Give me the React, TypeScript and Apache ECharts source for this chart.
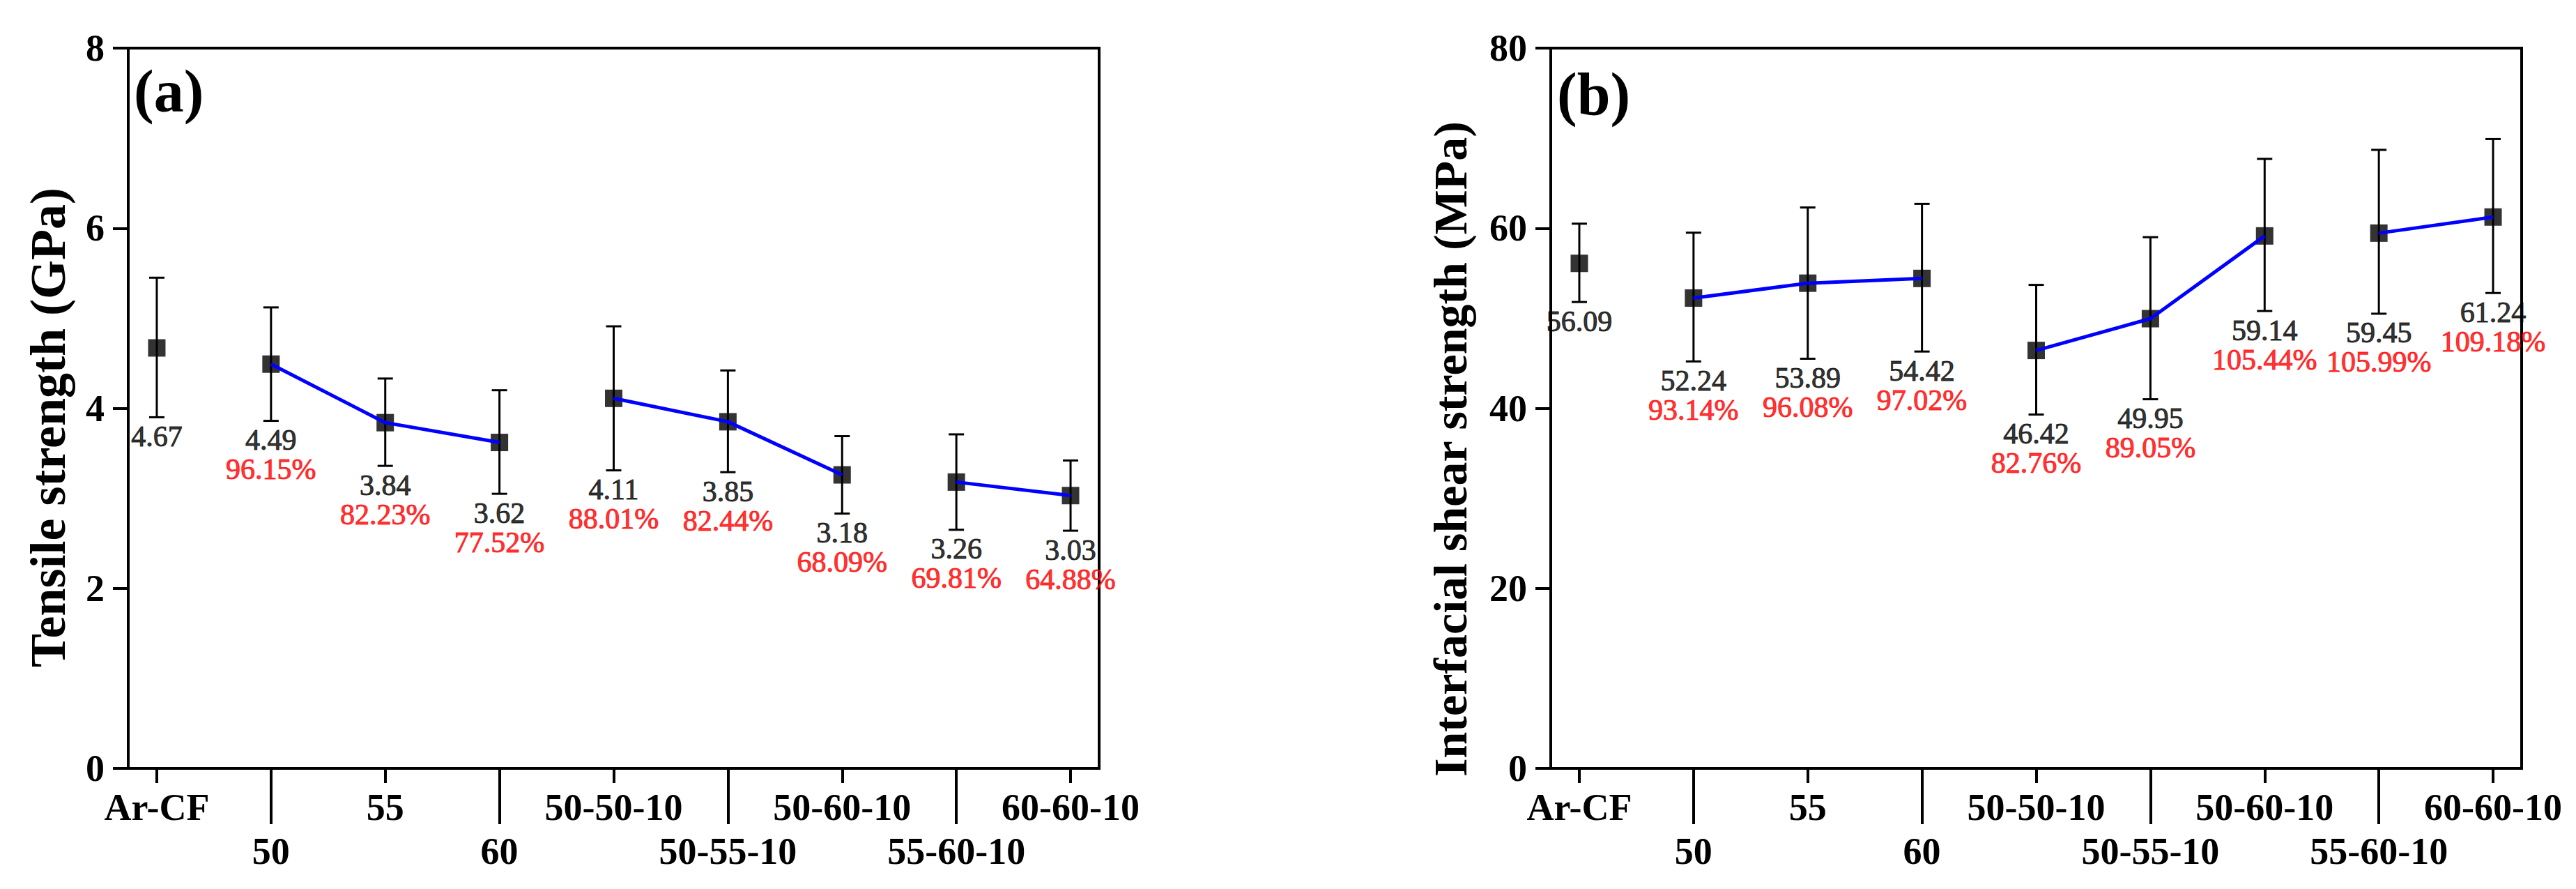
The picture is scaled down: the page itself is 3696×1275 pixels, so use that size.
import React, { useEffect, useRef } from 'react';
import * as echarts from 'echarts';

// ---------- data ----------
const categories = ['Ar-CF', '50', '55', '60', '50-50-10', '50-55-10', '50-60-10', '55-60-10', '60-60-10'];
const positions = [1, 2, 3, 4, 5, 6, 7, 8, 9];
const upperRowTicks = [1, 3, 5, 7, 9];
const lowerRowTicks = [2, 4, 6, 8];
const lineGroups = [[1, 2, 3], [4, 5, 6], [7, 8]];

// (a) tensile strength, GPa
const tensileMean = [4.67, 4.49, 3.84, 3.62, 4.11, 3.85, 3.26, 3.18, 3.03];
const tensileHigh = [5.45, 5.12, 4.33, 4.2, 4.91, 4.42, 3.69, 3.71, 3.42];
const tensileLow = [3.9, 3.86, 3.36, 3.05, 3.31, 3.29, 2.83, 2.65, 2.64];
const tensileLabels = ['4.67', '4.49', '3.84', '3.62', '4.11', '3.85', '3.18', '3.26', '3.03'];
const tensilePct = ['', '96.15%', '82.23%', '77.52%', '88.01%', '82.44%', '68.09%', '69.81%', '64.88%'];
const tensileTicks = { min: 0, max: 8, interval: 2 };

// (b) interfacial shear strength, MPa
const ifssMean = [56.09, 52.24, 53.89, 54.42, 46.42, 49.95, 59.14, 59.45, 61.24];
const ifssHigh = [60.5, 59.5, 62.3, 62.7, 53.7, 59.0, 67.7, 68.7, 69.9];
const ifssLow = [51.8, 45.2, 45.5, 46.3, 39.3, 41.0, 50.8, 50.5, 52.8];
const ifssLabels = ['56.09', '52.24', '53.89', '54.42', '46.42', '49.95', '59.14', '59.45', '61.24'];
const ifssPct = ['', '93.14%', '96.08%', '97.02%', '82.76%', '89.05%', '105.44%', '105.99%', '109.18%'];
const ifssTicks = { min: 0, max: 80, interval: 20 };

const FONT = "'Times New Roman', 'Liberation Serif', serif";

function xAxes(gridIndex: number) {
  const common = {
    type: 'value',
    gridIndex,
    position: 'bottom',
    min: 0.75,
    max: 9.25,
    splitLine: { show: false },
  };
  const label = {
    fontSize: 54,
    fontWeight: 'bold',
    color: '#000',
    fontFamily: FONT,
    formatter: (v: number) => categories[Math.round(v) - 1] ?? '',
  };
  return [
    {
      ...common,
      axisLine: { show: true, onZero: false, lineStyle: { color: '#000', width: 4 } },
      axisTick: { show: true, length: 21, lineStyle: { color: '#000', width: 4 }, customValues: upperRowTicks },
      axisLabel: { ...label, margin: 29, customValues: upperRowTicks },
    },
    {
      ...common,
      axisLine: { show: false, onZero: false },
      axisTick: { show: true, length: 80, lineStyle: { color: '#000', width: 4 }, customValues: lowerRowTicks },
      axisLabel: { ...label, margin: 92, customValues: lowerRowTicks },
    },
  ];
}

function yAxis(gridIndex: number, t: { min: number; max: number; interval: number }) {
  return {
    type: 'value',
    gridIndex,
    min: t.min,
    max: t.max,
    interval: t.interval,
    splitLine: { show: false },
    axisLine: { show: true, onZero: false, lineStyle: { color: '#000', width: 4 } },
    axisTick: { show: true, length: 22, lineStyle: { color: '#000', width: 4 } },
    axisLabel: { margin: 34, fontSize: 54, fontWeight: 'bold', color: '#000', fontFamily: FONT },
  };
}

function panelSeries(
  g: number,
  mean: number[],
  high: number[],
  low: number[],
  labels: string[],
  pct: string[],
) {
  const xi = g * 2;
  const lineData: any[] = [];
  lineGroups.forEach((grp, k) => {
    grp.forEach((i) => lineData.push([positions[i], mean[i]]));
    if (k < lineGroups.length - 1) lineData.push([positions[grp[grp.length - 1]] + 0.5, '-']);
  });
  const textStyle = (color: string) => ({
    color,
    fontSize: 42,
    lineHeight: 42,
    fontFamily: FONT,
    textBorderColor: color,
    textBorderWidth: 1,
  });
  return [
    {
      type: 'custom',
      xAxisIndex: xi,
      yAxisIndex: g,
      z: 2,
      silent: true,
      encode: { x: 0, y: [1, 2] },
      data: positions.map((p, i) => [p, low[i], high[i]]),
      renderItem: (params: any, api: any) => {
        const x = api.value(0);
        const lo = api.coord([x, api.value(1)]);
        const hi = api.coord([x, api.value(2)]);
        const hw = 11;
        const style = { stroke: '#000', lineWidth: 3 };
        return {
          type: 'group',
          children: [
            { type: 'line', shape: { x1: lo[0], y1: lo[1], x2: hi[0], y2: hi[1] }, style },
            { type: 'line', shape: { x1: hi[0] - hw, y1: hi[1], x2: hi[0] + hw, y2: hi[1] }, style },
            { type: 'line', shape: { x1: lo[0] - hw, y1: lo[1], x2: lo[0] + hw, y2: lo[1] }, style },
          ],
        };
      },
    },
    {
      type: 'scatter',
      xAxisIndex: xi,
      yAxisIndex: g,
      z: 3,
      symbol: 'rect',
      symbolSize: 25,
      itemStyle: { color: '#000' },
      data: positions.map((p, i) => [p, mean[i]]),
    },
    {
      type: 'line',
      xAxisIndex: xi,
      yAxisIndex: g,
      z: 4,
      symbol: 'none',
      showSymbol: false,
      connectNulls: false,
      lineStyle: { color: '#0000ff', width: 5 },
      data: lineData,
    },
    {
      type: 'scatter',
      xAxisIndex: xi,
      yAxisIndex: g,
      z: 5,
      silent: true,
      symbolSize: 1,
      itemStyle: { color: 'transparent' },
      label: {
        show: true,
        position: 'bottom',
        distance: 6,
        rich: {
          v: textStyle('#000'),
          p: textStyle('#ff0000'),
        },
      },
      data: positions.map((p, i) => ({
        value: [p, low[i]],
        label: {
          formatter: pct[i] ? `{v|${labels[i]}}\n{p|${pct[i]}}` : `{v|${labels[i]}}`,
        },
      })),
    },
  ];
}

export default function App() {
  const ref = useRef<HTMLDivElement>(null);
  useEffect(() => {
    if (!ref.current) return;
    const chart = echarts.init(ref.current, undefined, { renderer: 'svg' });
    const gridCommon = {
      top: 69,
      width: 1393,
      height: 1033,
      show: true,
      borderColor: '#000',
      borderWidth: 4,
      backgroundColor: 'transparent',
      containLabel: false,
    };
    chart.setOption({
      animation: false,
      backgroundColor: '#fff',
      grid: [
        { ...gridCommon, left: 184 },
        { ...gridCommon, left: 2225 },
      ],
      xAxis: [...xAxes(0), ...xAxes(1)],
      yAxis: [yAxis(0, tensileTicks), yAxis(1, ifssTicks)],
      series: [
        ...panelSeries(0, tensileMean, tensileHigh, tensileLow, tensileLabels, tensilePct),
        ...panelSeries(1, ifssMean, ifssHigh, ifssLow, ifssLabels, ifssPct),
      ],
      graphic: [
        {
          type: 'text',
          x: 192,
          y: 131,
          style: { text: '(a)', font: `bold 86px ${FONT}`, fill: '#000', textAlign: 'left', textVerticalAlign: 'middle' },
        },
        {
          type: 'text',
          x: 2234,
          y: 135,
          style: { text: '(b)', font: `bold 86px ${FONT}`, fill: '#000', textAlign: 'left', textVerticalAlign: 'middle' },
        },
        {
          type: 'text',
          x: 69,
          y: 613,
          rotation: Math.PI / 2,
          style: {
            text: 'Tensile strength (GPa)',
            font: `bold 72px ${FONT}`,
            fill: '#000',
            textAlign: 'center',
            textVerticalAlign: 'middle',
          },
        },
        {
          type: 'text',
          x: 2081,
          y: 644,
          rotation: Math.PI / 2,
          style: {
            text: 'Interfacial shear strength (MPa)',
            font: `bold 68px ${FONT}`,
            fill: '#000',
            textAlign: 'center',
            textVerticalAlign: 'middle',
          },
        },
      ],
    });
    return () => chart.dispose();
  }, []);
  return (
    <div
      ref={ref}
      style={{ position: 'fixed', left: 0, top: 0, width: 3696, height: 1275, background: '#fff' }}
    />
  );
}
